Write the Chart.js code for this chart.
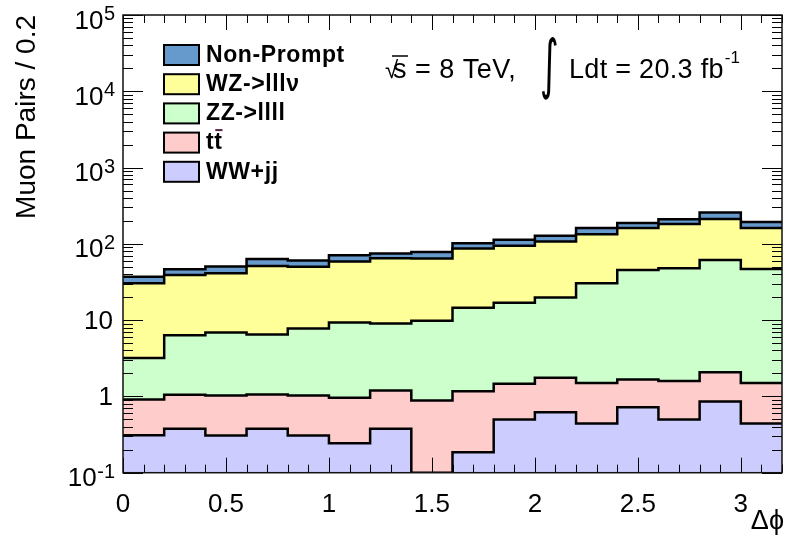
<!DOCTYPE html>
<html><head><meta charset="utf-8">
<script src="https://cdn.jsdelivr.net/npm/chart.js@4.4.1/dist/chart.umd.min.js"></script>
<style>html,body{margin:0;padding:0;background:#fff;}canvas{display:block;}</style>
</head><body>
<canvas id="c" width="786" height="536"></canvas>
<script>
// ---- data ----
const binEdges = [0,0.2,0.4,0.6,0.8,1.0,1.2,1.4,1.6,1.8,2.0,2.2,2.4,2.6,2.8,3.0,3.2];
const seriesLabels = ['Non-Prompt','WZ->lllν','ZZ->llll','tt','WW+jj'];
const nonPrompt = [6.7,7.4,9.2,12.1,10.0,12.5,9.7,14.1,15.3,18.8,20.2,27,26,29,47,32];
const wzlllv    = [27.2,32.8,34.2,44.9,42.5,49.2,55.8,54.5,72.1,77.3,87.3,103.6,115.5,134,149.5,114];
const zzllll    = [2.28,5.30,5.86,5.42,6.75,8.37,7.85,8.96,13.4,15.4,18.1,28.9,43.8,46.3,59.4,45.4];
const ttbar     = [0.60,0.675,0.72,0.685,0.72,0.718,0.82,0.786,0.98,0.97,1.14,1.06,0.95,1.09,1.21,1.06];
const wwjj      = [0.31,0.376,0.307,0.376,0.307,0.243,0.376,0.10,0.185,0.50,0.62,0.44,0.72,0.50,0.86,0.44];
const xTickLabels = [0,0.5,1,1.5,2,2.5,3];
const yDecades = [0.1,1,10,100,1000,10000,100000];
const colors = {np:'#6699cc', wz:'#ffff99', zz:'#ccffcc', tt:'#ffcccc', ww:'#ccccff'};

function toPoints(vals){ return binEdges.map((x,i)=>({x:x, y:vals[Math.min(i, vals.length-1)]})); }

const FONT = '"Liberation Sans", Arial, Helvetica, sans-serif';

const decor = {
  id:'decor',
  afterDraw(chart){
    const ctx = chart.ctx, xa = chart.scales.x, ya = chart.scales.y;
    const {left,right,top,bottom} = chart.chartArea;
    ctx.save();
    // ticks
    ctx.strokeStyle = '#000'; ctx.lineWidth = 1;
    ctx.beginPath();
    for (let i=0;i<=32;i++){
      const px = Math.round(xa.getPixelForValue(i/10))+0.5;
      const len = (i%5===0)?15:8;
      ctx.moveTo(px,bottom); ctx.lineTo(px,bottom-len);
      ctx.moveTo(px,top); ctx.lineTo(px,top+len);
    }
    for (let e=-1;e<=5;e++){
      for (let m=1;m<10;m++){
        const v = m*Math.pow(10,e);
        if (v>1e5*1.0001) break;
        const py = Math.round(ya.getPixelForValue(v))+0.5;
        const len = (m===1)?20:10;
        ctx.moveTo(left,py); ctx.lineTo(left+len,py);
        ctx.moveTo(right,py); ctx.lineTo(right-len,py);
      }
    }
    ctx.stroke();
    // frame
    ctx.lineWidth = 1.5; ctx.strokeStyle='#111';
    ctx.strokeRect(left,top,right-left,bottom-top);

    // y labels
    ctx.fillStyle='#000';
    yDecades.forEach(v=>{
      const py = ya.getPixelForValue(v);
      const e = Math.round(Math.log10(v));
      ctx.textBaseline='alphabetic';
      if (e===0 || e===1){
        ctx.font = '26px '+FONT; ctx.textAlign='right';
        ctx.fillText(e===0?'1':'10', 113, py+9);
      } else {
        const sup = String(e);
        ctx.font = '20px '+FONT; ctx.textAlign='right';
        const sw = ctx.measureText(sup).width;
        ctx.fillText(sup, 115, py+5);
        ctx.font = '26px '+FONT;
        ctx.fillText('10', 115-sw-0.5, py+13.5);
      }
    });
    // y title
    ctx.save();
    ctx.translate(35,15); ctx.rotate(-Math.PI/2);
    ctx.font='28px '+FONT; ctx.textAlign='right'; ctx.textBaseline='alphabetic';
    ctx.fillText('Muon Pairs / 0.2',0,0);
    ctx.restore();
    // x title
    ctx.font='27px '+FONT; ctx.textAlign='right'; ctx.textBaseline='alphabetic';
    ctx.fillText('Δϕ', 784, 529);

    // legend
    const legendItems = [
      {label:seriesLabels[0], color:colors.np},
      {label:seriesLabels[1], color:colors.wz},
      {label:seriesLabels[2], color:colors.zz},
      {label:seriesLabels[3], color:colors.tt},
      {label:seriesLabels[4], color:colors.ww}
    ];
    legendItems.forEach((it,i)=>{
      const y0 = 45 + i*29.2;
      ctx.fillStyle = it.color; ctx.fillRect(164,y0,35,20);
      ctx.lineWidth=2; ctx.strokeStyle='#000'; ctx.strokeRect(164,y0,35,20);
      ctx.fillStyle='#000'; ctx.font='bold 23px '+FONT; ctx.textAlign='left';
      ctx.letterSpacing = '0.6px';
      ctx.fillText(it.label, 206, y0+16.7);
      if (i===3){
        const w1 = ctx.measureText('t').width, w2 = ctx.measureText('tt').width;
        ctx.strokeStyle='#552244'; ctx.lineWidth=2;
        ctx.beginPath(); ctx.moveTo(206+w1+1, y0-2.5); ctx.lineTo(206+w2, y0-2.5); ctx.stroke();
      }
      ctx.letterSpacing = '0px';
    });

    // annotation
    ctx.fillStyle='#000'; ctx.textAlign='left'; ctx.textBaseline='alphabetic';
    ctx.font='24px '+FONT; ctx.fillText('√', 385, 78);
    ctx.font='27px '+FONT;
    ctx.letterSpacing = '0.5px';
    ctx.fillText('s = 8 TeV,', 393, 78);
    const sw = ctx.measureText('s').width;
    ctx.strokeStyle='#000'; ctx.lineWidth=1.5;
    ctx.beginPath(); ctx.moveTo(392,56); ctx.lineTo(393+sw+1,56); ctx.stroke();
    ctx.letterSpacing = '0px';
    ctx.save(); ctx.translate(540,86); ctx.scale(0.75,1.35);
    ctx.font='48px "DejaVu Sans", sans-serif'; ctx.fillText('∫',0,0); ctx.restore();
    ctx.font='27px '+FONT;
    ctx.letterSpacing = '0.3px';
    ctx.fillText('Ldt = 20.3 fb', 569, 78);
    const lw = ctx.measureText('Ldt = 20.3 fb').width;
    ctx.letterSpacing = '0px';
    ctx.font='17px '+FONT; ctx.fillText('-1', 569+lw+1, 63);
    ctx.restore();
  }
};

const mk = (label, vals, color, fill) => ({
  label, data: toPoints(vals), backgroundColor: color, borderColor:'#000', borderWidth:2.5,
  fill, stepped:true, pointRadius:0, tension:0
});

new Chart(document.getElementById('c'), {
  type:'line',
  data:{ datasets:[
    mk(seriesLabels[4], wwjj, colors.ww, 'start'),
    mk(seriesLabels[3], ttbar, colors.tt, '-1'),
    mk(seriesLabels[2], zzllll, colors.zz, '-1'),
    mk(seriesLabels[1], wzlllv, colors.wz, '-1'),
    mk(seriesLabels[0], nonPrompt, colors.np, '-1')
  ]},
  options:{
    responsive:false, animation:false, devicePixelRatio:1,
    layout:{padding:{top:15,right:4,left:0,bottom:0}},
    plugins:{legend:{display:false}, tooltip:{enabled:false}},
    scales:{
      x:{type:'linear', min:0, max:3.2, grid:{display:false}, border:{display:false},
        afterBuildTicks:s=>{ s.ticks = xTickLabels.map(v=>({value:v})); },
        ticks:{font:{family:FONT,size:26}, color:'#000', padding:9, maxRotation:0, autoSkip:false,
          callback:v=>String(v)},
        afterFit:s=>{ s.height = 63.3; }
      },
      y:{type:'logarithmic', stacked:true, min:0.1, max:1e5, grid:{display:false}, border:{display:false},
        ticks:{display:false}, afterFit:s=>{ s.width = 123; }
      }
    }
  },
  plugins:[decor]
});
</script>
</body></html>
